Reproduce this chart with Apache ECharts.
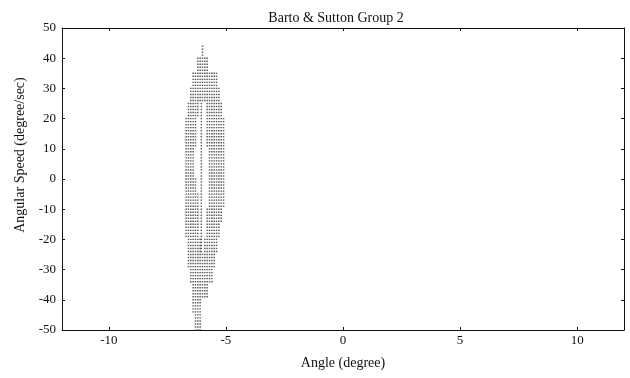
<!DOCTYPE html>
<html>
<head>
<meta charset="utf-8">
<script src="https://cdn.jsdelivr.net/npm/echarts@6/dist/echarts.min.js"></script>
<style>
  html, body { margin: 0; padding: 0; background: #fff; }
  #chart { width: 630px; height: 378px; }
</style>
</head>
<body>
<div id="chart"></div>
<script>
// visited states (5 deg/sec per band)
const bandTop  = [45, 40, 35, 30, 25, 20, 15, 10, 5, 0, -5, -10, -15, -20, -25, -30, -35, -40, -45];
const bandLo   = [-6.08, -6.2, -6.45, -6.55, -6.65, -6.7, -6.72, -6.72, -6.72, -6.72, -6.72, -6.72, -6.7, -6.65, -6.6, -6.55, -6.45, -6.4, -6.35];
const bandHi   = [-5.92, -5.75, -5.4, -5.28, -5.2, -5.1, -5.06, -5.04, -5.04, -5.04, -5.1, -5.15, -5.25, -5.35, -5.5, -5.6, -5.8, -6.05, -6.05];
const gapLo    = [null, null, null, null, -6.2, -6.25, -6.3, -6.33, -6.33, -6.25, -6.2, -6.18, -6.15, -6.1, null, null, null, null, null];
const gapHi    = [null, null, null, null, -5.88, -5.85, -5.8, -5.75, -5.72, -5.7, -5.75, -5.8, -5.85, -5.92, null, null, null, null, null];
const midColumn = -6.05;
const peakSpeed = 44;
const lowSpeed = -50;
const angleStep = 0.1;
const speedStep = 1;

const angleTicks = [-10, -5, 0, 5, 10];

const points = [];
for (let y = peakSpeed; y >= lowSpeed; y -= speedStep) {
  const i = Math.min(bandTop.length - 1, Math.floor((bandTop[0] - y) / 5));
  const kLo = Math.ceil(bandLo[i] / angleStep - 1e-6);
  const kHi = Math.floor(bandHi[i] / angleStep + 1e-6);
  for (let k = kLo; k <= kHi; k++) {
    const x = +(k * angleStep).toFixed(2);
    if (gapLo[i] !== null && x > gapLo[i] && x < gapHi[i]) continue;
    points.push([x, y]);
  }
  if (gapLo[i] !== null) points.push([midColumn, y]);
}

const serif = '"Liberation Serif", "DejaVu Serif", serif';
const ink = '#111';

const myChart = echarts.init(document.getElementById('chart'));
const option = {
  animation: false,
  backgroundColor: '#fff',
  title: {
    text: 'Barto & Sutton Group 2',
    left: 331,
    textAlign: 'center',
    top: 6,
    textStyle: { fontFamily: serif, fontSize: 14, fontWeight: 'normal', color: ink }
  },
  graphic: [
    {
      type: 'text',
      x: 20,
      y: 155,
      rotation: Math.PI / 2,
      style: {
        text: 'Angular Speed (degree/sec)',
        font: '14px ' + serif,
        fill: ink,
        align: 'center',
        verticalAlign: 'middle'
      }
    }
  ],
  grid: { left: 62, right: 6, top: 28, bottom: 48 },
  xAxis: [
    {
      type: 'value',
      min: -12,
      max: 12,
      interval: 1,
      name: 'Angle (degree)',
      nameLocation: 'middle',
      nameGap: 26,
      nameTextStyle: { fontFamily: serif, fontSize: 14, color: ink },
      axisLine: { onZero: false, lineStyle: { color: ink, width: 1 } },
      axisTick: { inside: true, length: 3, customValues: angleTicks, lineStyle: { color: ink } },
      axisLabel: {
        customValues: angleTicks,
        margin: 4,
        fontFamily: serif, fontSize: 13, color: ink
      },
      splitLine: { show: false }
    },
    {
      type: 'value',
      position: 'top',
      min: -12,
      max: 12,
      axisLine: { onZero: false, lineStyle: { color: ink, width: 1 } },
      axisTick: { inside: true, length: 3, customValues: angleTicks, lineStyle: { color: ink } },
      axisLabel: { show: false },
      splitLine: { show: false }
    }
  ],
  yAxis: [
    {
      type: 'value',
      min: -50,
      max: 50,
      interval: 10,
      axisLine: { onZero: false, lineStyle: { color: ink, width: 1 } },
      axisTick: { inside: true, length: 3, lineStyle: { color: ink } },
      axisLabel: { margin: 6, fontFamily: serif, fontSize: 13, color: ink },
      splitLine: { show: false }
    },
    {
      type: 'value',
      position: 'right',
      min: -50,
      max: 50,
      interval: 10,
      axisLine: { show: true, onZero: false, lineStyle: { color: ink, width: 1 } },
      axisTick: { show: true, inside: true, length: 3, lineStyle: { color: ink } },
      axisLabel: { show: false },
      splitLine: { show: false }
    }
  ],
  series: [
    {
      type: 'scatter',
      data: points,
      symbol: 'rect',
      symbolSize: [1.5, 1.4],
      itemStyle: { color: '#333' },
      silent: true
    }
  ]
};
myChart.setOption(option);
</script>
</body>
</html>
